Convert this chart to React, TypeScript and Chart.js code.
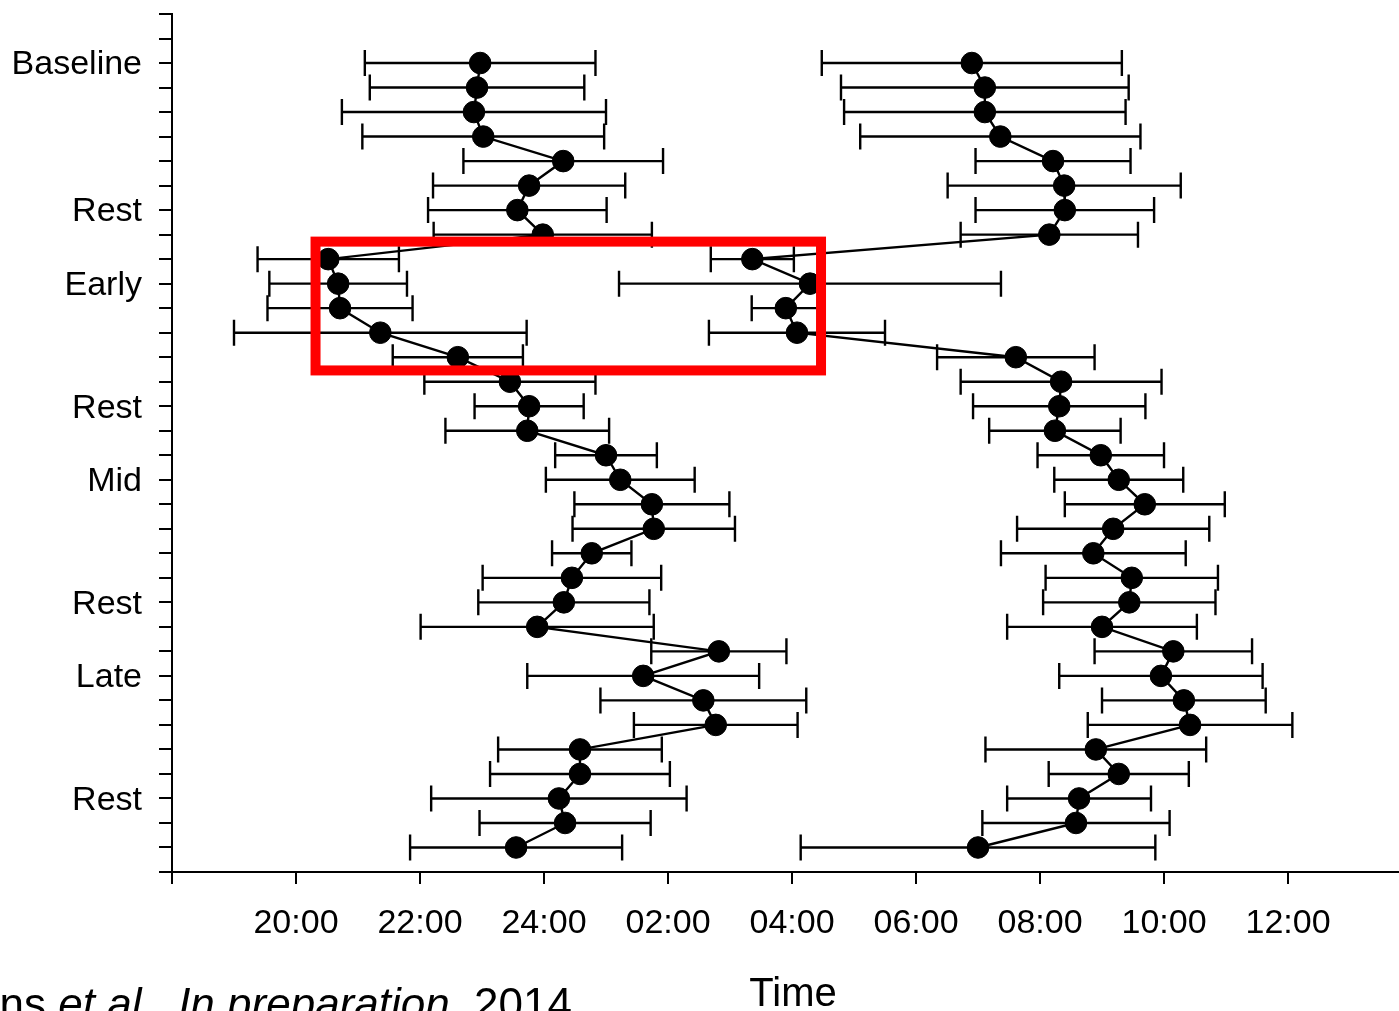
import React, { useEffect, useRef } from 'react';
import { Chart, registerables } from 'chart.js';

Chart.register(...registerables);

// Row positions (categorical, top to bottom)
const rows = [0, 1, 2, 3, 4, 5, 6, 7, 8, 9, 10, 11, 12, 13, 14, 15, 16, 17, 18, 19, 20, 21, 22, 23, 24, 25, 26, 27, 28, 29, 30, 31, 32];

// Section labels on the y axis
const categoryLabels = ['Baseline', 'Rest', 'Early', 'Rest', 'Mid', 'Rest', 'Late', 'Rest'];
const categoryRows = [0, 6, 9, 14, 17, 22, 25, 30];

// x axis: hours (24 = midnight, values > 24 are the next day)
const timeTickValues = [18, 20, 22, 24, 26, 28, 30, 32, 34, 36];
const timeTickLabels = ['', '20:00', '22:00', '24:00', '02:00', '04:00', '06:00', '08:00', '10:00', '12:00'];
const timeMin = 18;
const timeMax = 37.79;

// Evening series (mean time, SD in hours)
const eveningMean = [22.97, 22.92, 22.87, 23.02, 24.31, 23.76, 23.57, 23.98, 20.52, 20.68, 20.71, 21.36, 22.61, 23.45, 23.76, 23.73, 25.0, 25.23, 25.74, 25.77, 24.77, 24.45, 24.32, 23.89, 26.82, 25.6, 26.57, 26.77, 24.58, 24.58, 24.24, 24.34, 23.55];
const eveningSD = [1.86, 1.73, 2.13, 1.95, 1.61, 1.55, 1.44, 1.76, 1.14, 1.11, 1.17, 2.36, 1.05, 1.38, 0.88, 1.32, 0.82, 1.2, 1.25, 1.31, 0.64, 1.44, 1.38, 1.88, 1.09, 1.87, 1.66, 1.32, 1.32, 1.45, 2.06, 1.38, 1.71];

// Morning series (mean time, SD in hours)
const morningMean = [30.9, 31.11, 31.11, 31.36, 32.21, 32.39, 32.4, 32.15, 27.36, 28.29, 27.9, 28.08, 31.61, 32.34, 32.31, 32.24, 32.98, 33.27, 33.69, 33.18, 32.86, 33.48, 33.44, 33.0, 34.15, 33.95, 34.32, 34.42, 32.9, 33.27, 32.63, 32.58, 31.0];
const morningSD = [2.42, 2.32, 2.27, 2.26, 1.25, 1.88, 1.44, 1.43, 0.67, 3.08, 0.55, 1.42, 1.27, 1.62, 1.39, 1.06, 1.02, 1.04, 1.29, 1.55, 1.49, 1.39, 1.39, 1.53, 1.27, 1.64, 1.32, 1.65, 1.78, 1.13, 1.16, 1.51, 2.86];

// Highlight box (data coordinates)
const highlightBox = { xMin: 20.315, xMax: 28.468, yMin: 7.285, yMax: 12.54 };

const xTitle = 'Time';
const citationParts = [
  { text: 'ns ', italic: false },
  { text: 'et al.', italic: true },
  { text: ', ', italic: false },
  { text: 'In preparation', italic: true },
  { text: ', 2014', italic: false },
];

const FONT = "'Liberation Sans', Arial, sans-serif";

const extrasPlugin = {
  id: 'extras',
  beforeDatasetsDraw(chart: any) {
    const { ctx, scales } = chart;
    const x = scales.x;
    const y = scales.y;
    ctx.save();
    ctx.strokeStyle = '#000';
    ctx.lineWidth = 2.4;
    const series: [number[], number[]][] = [
      [eveningMean, eveningSD],
      [morningMean, morningSD],
    ];
    series.forEach(([m, s]) => {
      m.forEach((v, i) => {
        const py = y.getPixelForValue(rows[i]);
        const x1 = x.getPixelForValue(v - s[i]);
        const x2 = x.getPixelForValue(v + s[i]);
        ctx.beginPath();
        ctx.moveTo(x1, py);
        ctx.lineTo(x2, py);
        ctx.moveTo(x1, py - 13);
        ctx.lineTo(x1, py + 13);
        ctx.moveTo(x2, py - 13);
        ctx.lineTo(x2, py + 13);
        ctx.stroke();
      });
    });
    ctx.restore();
  },
  afterDatasetsDraw(chart: any) {
    const { ctx, scales } = chart;
    const x = scales.x;
    const y = scales.y;
    const x1 = x.getPixelForValue(highlightBox.xMin);
    const x2 = x.getPixelForValue(highlightBox.xMax);
    const y1 = y.getPixelForValue(highlightBox.yMin);
    const y2 = y.getPixelForValue(highlightBox.yMax);
    ctx.save();
    ctx.strokeStyle = '#ff0000';
    ctx.lineWidth = 10;
    ctx.lineJoin = 'miter';
    ctx.strokeRect(x1, y1, x2 - x1, y2 - y1);
    ctx.restore();
  },
  afterDraw(chart: any) {
    const { ctx } = chart;
    ctx.save();
    ctx.fillStyle = '#000';
    ctx.font = `40px ${FONT}`;
    ctx.textAlign = 'center';
    ctx.textBaseline = 'alphabetic';
    ctx.fillText(xTitle, 793, 1006);

    ctx.textAlign = 'left';
    const size = 44;
    let total = 0;
    citationParts.forEach((p) => {
      ctx.font = `${p.italic ? 'italic ' : ''}${size}px ${FONT}`;
      total += ctx.measureText(p.text).width;
    });
    let cx = 572 - total;
    citationParts.forEach((p) => {
      ctx.font = `${p.italic ? 'italic ' : ''}${size}px ${FONT}`;
      ctx.fillText(p.text, cx, 1019);
      cx += ctx.measureText(p.text).width;
    });
    ctx.restore();
  },
};

export default function App() {
  const canvasRef = useRef<HTMLCanvasElement | null>(null);

  useEffect(() => {
    document.body.style.margin = '0';
    const canvas = canvasRef.current;
    if (!canvas) return;

    const makeData = (means: number[]) => means.map((v, i) => ({ x: v, y: rows[i] }));
    const dsStyle = {
      showLine: true,
      borderColor: '#000',
      backgroundColor: '#000',
      borderWidth: 2.4,
      pointRadius: 10.8,
      pointBorderWidth: 1,
      pointBorderColor: '#000',
      pointBackgroundColor: '#000',
      tension: 0,
      clip: false as any,
    };

    const chart = new Chart(canvas, {
      type: 'scatter',
      data: {
        datasets: [
          { label: 'Evening', data: makeData(eveningMean), ...dsStyle },
          { label: 'Morning', data: makeData(morningMean), ...dsStyle },
        ],
      },
      options: {
        animation: false,
        responsive: false,
        devicePixelRatio: 1,
        layout: { autoPadding: false, padding: { top: 14, right: 0, bottom: 0, left: 0 } },
        plugins: {
          legend: { display: false },
          tooltip: { enabled: false },
        },
        scales: {
          x: {
            type: 'linear',
            position: 'bottom',
            min: timeMin,
            max: timeMax,
            afterBuildTicks: (s: any) => {
              s.ticks = timeTickValues.map((v) => ({ value: v }));
            },
            afterFit: (s: any) => {
              s.height = 139;
              s.paddingLeft = 0;
              s.paddingRight = 0;
            },
            border: { display: true, color: '#000', width: 2 },
            grid: {
              display: true,
              drawOnChartArea: false,
              drawTicks: true,
              tickLength: 12,
              color: '#000',
              lineWidth: 2,
            },
            ticks: {
              autoSkip: false,
              maxRotation: 0,
              minRotation: 0,
              color: '#000',
              padding: 19,
              font: { family: FONT, size: 34 },
              callback: (_v: any, i: number) => timeTickLabels[i],
            },
          },
          y: {
            type: 'linear',
            position: 'left',
            reverse: true,
            min: -2,
            max: 33,
            afterBuildTicks: (s: any) => {
              const t: { value: number }[] = [];
              for (let v = -2; v <= 33; v++) t.push({ value: v });
              s.ticks = t;
            },
            afterFit: (s: any) => {
              s.width = 172;
              s.paddingTop = 0;
              s.paddingBottom = 0;
            },
            border: { display: true, color: '#000', width: 2 },
            grid: {
              display: true,
              drawOnChartArea: false,
              drawTicks: true,
              tickLength: 13,
              color: '#000',
              lineWidth: 2,
            },
            ticks: {
              autoSkip: false,
              color: '#000',
              padding: 17,
              labelOffset: 2,
              font: { family: FONT, size: 34 },
              callback: (v: any) => {
                const k = categoryRows.indexOf(Number(v));
                return k >= 0 ? categoryLabels[k] : '';
              },
            },
          },
        },
      },
      plugins: [extrasPlugin],
    } as any);

    return () => {
      chart.destroy();
    };
  }, []);

  return (
    <div style={{ position: 'fixed', left: 0, top: 0, width: 1399, height: 1011, background: '#fff' }}>
      <canvas ref={canvasRef} width={1399} height={1011} style={{ display: 'block' }} />
    </div>
  );
}
